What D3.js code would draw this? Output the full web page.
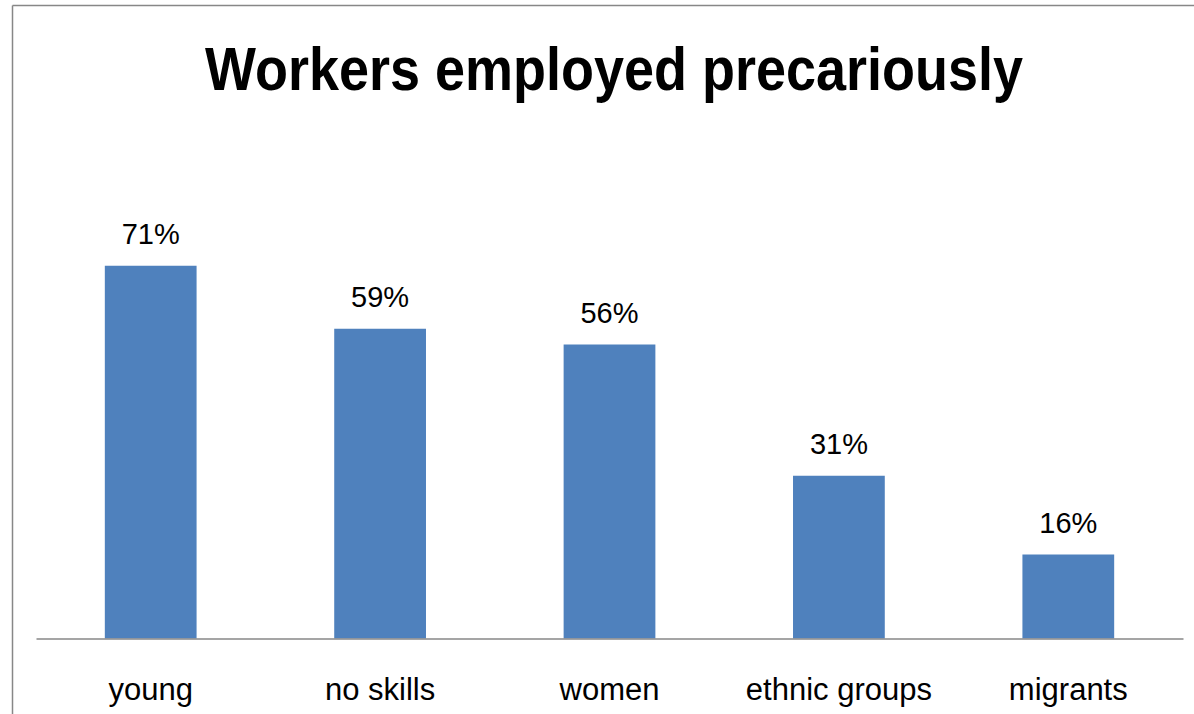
<!DOCTYPE html>
<html>
<head>
<meta charset="utf-8">
<script src="https://cdn.jsdelivr.net/npm/d3@7"></script>
<style>
  body { margin: 0; background: #fff; }
  svg { display: block; }
</style>
</head>
<body>
<div id="chart"></div>
<script>
const width = 1194,
    height = 714;

// data
const categories = ["young", "no skills", "women", "ethnic groups", "migrants"];
const shares = [0.71, 0.59, 0.56, 0.31, 0.16];
const shareLabels = ["71%", "59%", "56%", "31%", "16%"];

const data = categories.map((c, i) => ({ name: c, value: shares[i], label: shareLabels[i] }));

const svg = d3.select("#chart")
  .append("svg")
  .attr("width", width)
  .attr("height", height);

// chart frame (top and left edges visible)
svg.append("line")
  .attr("x1", 12.5).attr("x2", width)
  .attr("y1", 5.5).attr("y2", 5.5)
  .attr("stroke", "#878787").attr("stroke-width", 1.5);
svg.append("line")
  .attr("x1", 12.5).attr("x2", 12.5)
  .attr("y1", 5.5).attr("y2", height)
  .attr("stroke", "#878787").attr("stroke-width", 1.5);

// title
svg.append("text")
  .attr("x", 614)
  .attr("y", 90)
  .attr("text-anchor", "middle")
  .attr("font-family", "Liberation Sans, Arial, sans-serif")
  .attr("font-weight", "bold")
  .attr("font-size", 62)
  .attr("textLength", 818)
  .attr("lengthAdjust", "spacingAndGlyphs")
  .text("Workers employed precariously");

const x = d3.scaleBand()
  .domain(categories)
  .range([36, 1183])
  .paddingInner(0.6)
  .paddingOuter(0.3);

const y = d3.scaleLinear()
  .domain([0, 1])
  .range([638.5, 113.5]);

svg.selectAll(".bar")
  .data(data)
  .enter().append("rect")
  .attr("class", "bar")
  .attr("x", d => x(d.name))
  .attr("width", x.bandwidth())
  .attr("y", d => y(d.value))
  .attr("height", d => y(0) - y(d.value))
  .attr("fill", "#4f81bd");

// baseline axis
const xAxis = svg.append("g")
  .attr("transform", `translate(0,${y(0)})`)
  .call(d3.axisBottom(x).tickSize(0).tickPadding(0));
xAxis.select(".domain").attr("stroke", "#878787").attr("stroke-width", 1.5);
xAxis.selectAll("text")
  .attr("dy", 0)
  .attr("y", 61)
  .attr("font-family", "Liberation Sans, Arial, sans-serif")
  .attr("font-size", 31)
  .attr("fill", "#000");

svg.selectAll(".bar-label")
  .data(data)
  .enter().append("text")
  .attr("class", "bar-label")
  .attr("x", d => x(d.name) + x.bandwidth() / 2)
  .attr("y", d => y(d.value) - 22)
  .attr("text-anchor", "middle")
  .attr("font-family", "Liberation Sans, Arial, sans-serif")
  .attr("font-size", 29)
  .text(d => d.label);
</script>
</body>
</html>
